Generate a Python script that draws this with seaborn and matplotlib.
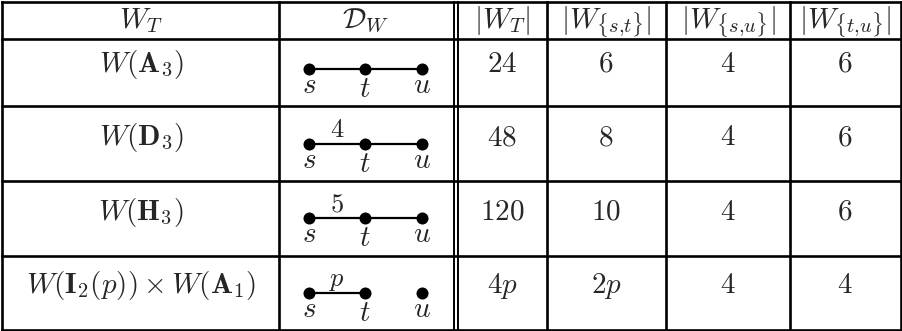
import seaborn as sns
import matplotlib.pyplot as plt
import pandas as pd

# table content
headers = [r'$W_T$', r'$\mathcal{D}_W$', r'$|W_T|$', r'$|W_{\{s{,}t\}}|$',
           r'$|W_{\{s{,}u\}}|$', r'$|W_{\{t{,}u\}}|$']
groups = [r'$W(\mathbf{A}_3)$', r'$W(\mathbf{D}_3)$', r'$W(\mathbf{H}_3)$',
          r'$W(\mathbf{I}_2(p))\times W(\mathbf{A}_1)$']
nodes = ['s', 't', 'u']
edges = [[('s', 't'), ('t', 'u')], [('s', 't'), ('t', 'u')],
         [('s', 't'), ('t', 'u')], [('s', 't')]]
edge_labels = ['', '4', '5', 'p']
order_W = ['24', '48', '120', '4p']
order_st = ['6', '8', '10', '2p']
order_su = ['4', '4', '4', '4']
order_tu = ['6', '6', '6', '4']

# layout (pixels)
col_lines = [2, 279, 454, 458, 547, 666, 790, 901]
row_lines = [2, 39, 106, 181, 256, 330]
col_centers = [141, 366, 502, 606, 728, 845]
header_base = 28
row_base = [72, 145, 220, 293]
dot_y = [69, 144, 218, 293]
node_x = {'s': 309, 't': 365, 'u': 422}
label_drop = {'s': 24, 't': 28, 'u': 24}

sns.set_style('white')
plt.rcParams['mathtext.fontset'] = 'cm'

fig = plt.figure(figsize=(9.03, 3.31), dpi=100)
ax = fig.add_axes([0, 0, 1, 1])

lw = 1.9
for x in col_lines:
    ax.plot([x, x], [row_lines[0], row_lines[-1]], color='black',
            lw=lw if x not in (454, 458) else 1.4, solid_capstyle='projecting')
for y in row_lines:
    ax.plot([col_lines[0], col_lines[-1]], [y, y], color='black', lw=lw,
            solid_capstyle='projecting')

fs = 21
for cx, h in zip(col_centers, headers):
    ax.text(cx, header_base, h, ha='center', va='baseline', fontsize=fs)

columns = [groups, None, order_W, order_st, order_su, order_tu]
for i in range(len(groups)):
    for j, col in enumerate(columns):
        if col is None:
            continue
        ax.text(col_centers[j], row_base[i], '$' + col[i].strip('$') + '$', ha='center',
                va='baseline', fontsize=fs)

    # Coxeter diagram
    y = dot_y[i]
    for a, b in edges[i]:
        sns.lineplot(x=[node_x[a], node_x[b]], y=[y, y], color='black', lw=1.6,
                     sort=False, ax=ax, estimator=None)
    dots = pd.DataFrame({'x': [node_x[n] for n in nodes], 'y': [y] * len(nodes)})
    sns.scatterplot(data=dots, x='x', y='y', s=75, color='black', edgecolor='black',
                    linewidth=0, ax=ax, zorder=3)
    for n in nodes:
        ax.text(node_x[n], y + label_drop[n], '$' + n + '$', ha='center', va='baseline',
                fontsize=fs)
    if edge_labels[i]:
        a, b = edges[i][0]
        ax.text((node_x[a] + node_x[b]) / 2, y - 7, '$' + edge_labels[i] + '$',
                ha='center', va='baseline', fontsize=19)

ax.set_xlim(0, 903)
ax.set_ylim(331, 0)
ax.axis('off')
fig.savefig('out.png', dpi=100)
